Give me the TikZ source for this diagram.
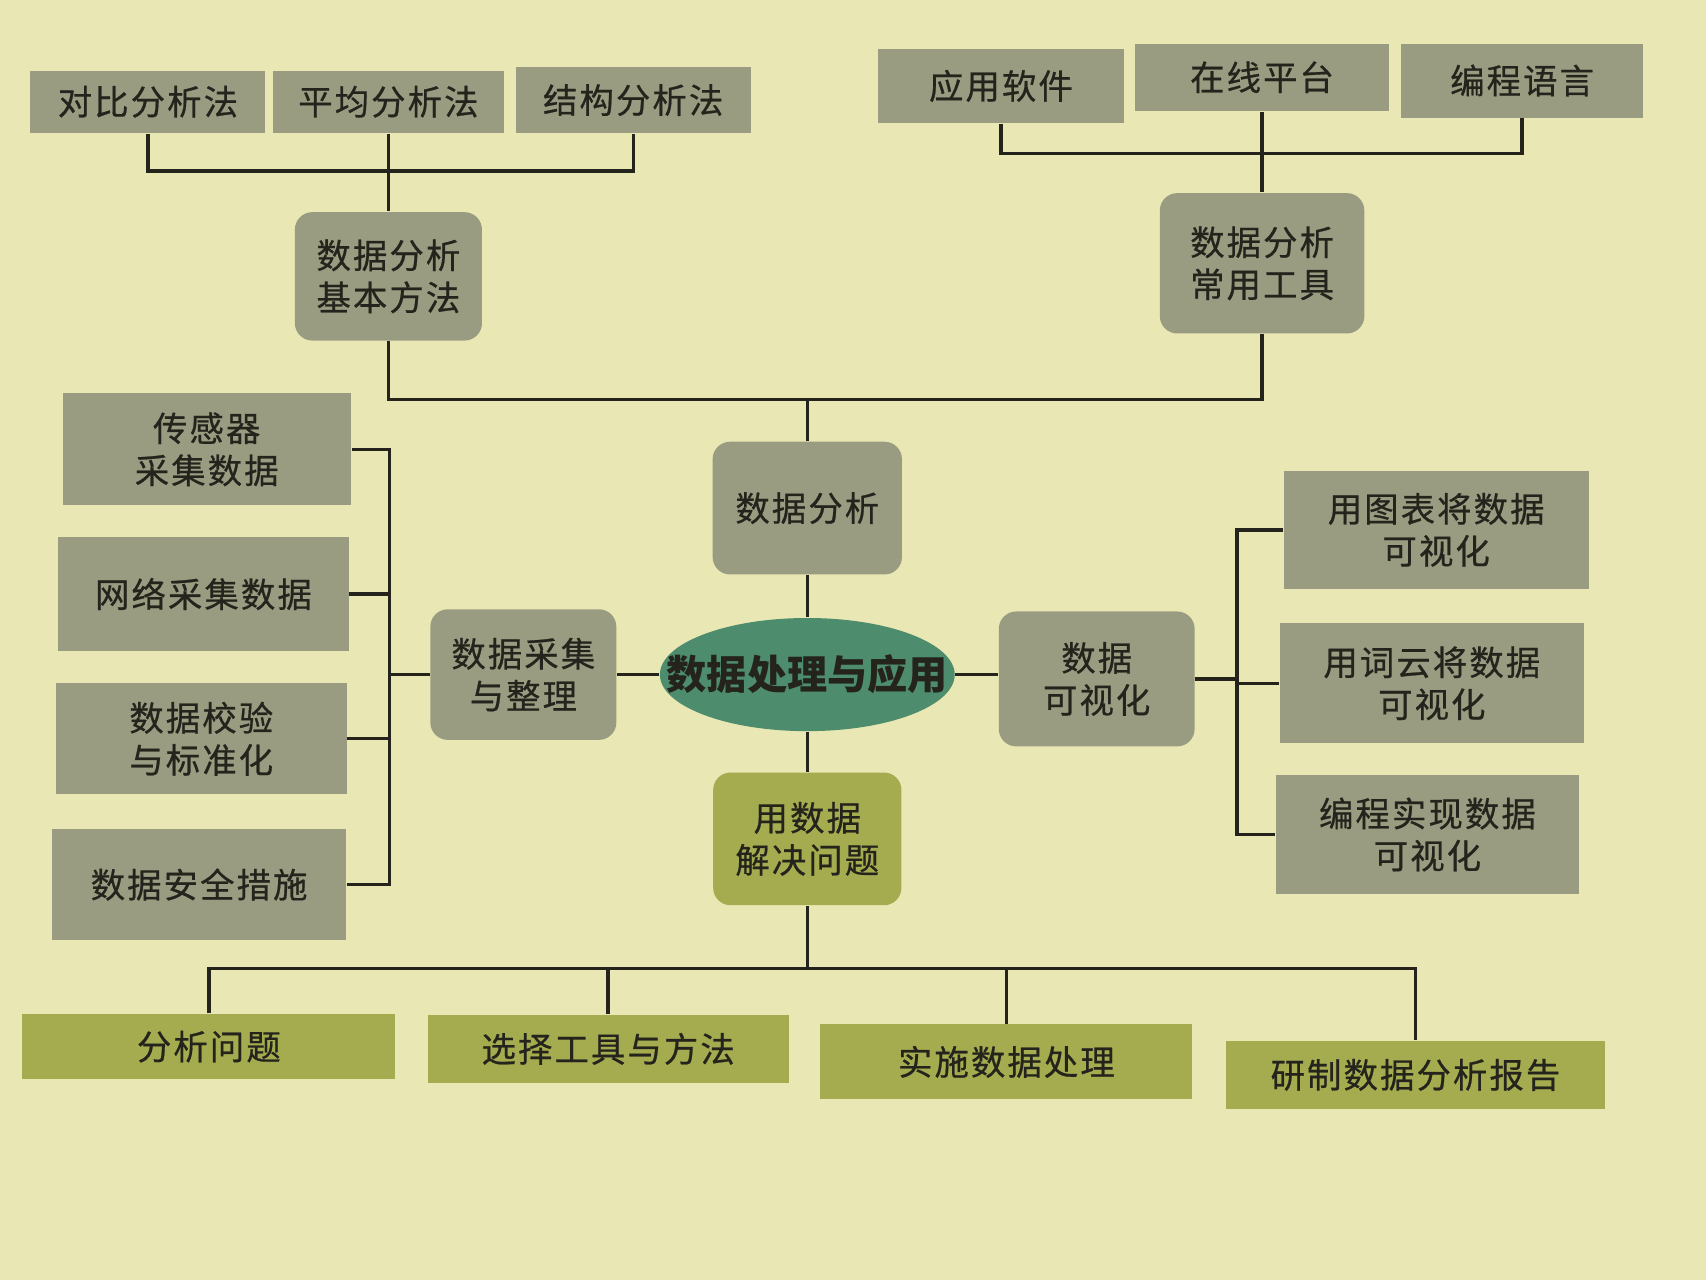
\documentclass[tikz,border=0pt]{standalone}
\usepackage{fontspec}
\setmainfont{Noto Sans CJK SC}
\usetikzlibrary{shapes.geometric}

\definecolor{paper}{HTML}{E9E7B3}
\definecolor{boxgray}{HTML}{9A9C82}
\definecolor{boxolive}{HTML}{A5AC50}
\definecolor{hubgreen}{HTML}{4E8C6E}
\definecolor{ink}{HTML}{24241C}

\tikzset{
  sz/.style 2 args={minimum width=#1mm, minimum height=#2mm},
  base/.style={inner sep=0pt, align=center, text=ink,
    font=\fontsize{9}{11}\selectfont\addfontfeature{LetterSpace=6,FakeBold=0.6}},
  leaf/.style={base, rectangle, fill=boxgray},
  topic/.style={base, rectangle, rounded corners=1.6mm, fill=boxgray},
  stepleaf/.style={base, rectangle, fill=boxolive},
  link/.style={draw=ink, line width=0.9pt},
}

\begin{document}
\begin{tikzpicture}[x=0.1mm, y=-0.1mm]
  % page
  \fill[paper] (0,0) rectangle (1568,1176);
  \useasboundingbox (0,0) rectangle (1568,1176);

  % analysis methods
  \node[leaf, sz={21.6}{5.7}] (a1) at (136,93.5) {对比分析法};
  \node[leaf, sz={21.3}{5.7}] (a2) at (357,93.5) {平均分析法};
  \node[leaf, sz={21.6}{6.0}] (a3) at (582,92) {结构分析法};
  \node[topic, sz={17.2}{11.8}] (am) at (357,254) {数据分析\\基本方法};

  % analysis tools
  \node[leaf, sz={22.6}{6.8}] (b1) at (920,79) {应用软件};
  \node[leaf, sz={23.4}{6.2}] (b2) at (1160,71) {在线平台};
  \node[leaf, sz={22.2}{6.8}] (b3) at (1399,74) {编程语言};
  \node[topic, sz={18.8}{12.9}] (bm) at (1160,242) {数据分析\\常用工具};

  % centre
  \node[topic, sz={17.4}{12.2}] (ana) at (742,467) {数据分析};
  \node[ellipse, fill=hubgreen, inner sep=0pt, minimum width=27.1mm, minimum height=10.4mm] (hub) at (742,620) {};
  \node[inner sep=0pt, text=ink, font=\fontsize{10.5}{12}\selectfont\bfseries] (hubtext) at (hub) {数据处理与应用};

  % collection
  \node[topic, sz={17.1}{12.0}] (col) at (481,620) {数据采集\\与整理};
  \node[leaf, sz={26.5}{10.3}] (l1) at (190,413) {传感器\\采集数据};
  \node[leaf, sz={26.7}{10.4}] (l2) at (187,546) {网络采集数据};
  \node[leaf, sz={26.7}{10.2}] (l3) at (185,679) {数据校验\\与标准化};
  \node[leaf, sz={27.0}{10.2}] (l4) at (183,813) {数据安全措施};

  % visualisation
  \node[topic, sz={18.0}{12.4}] (vis) at (1008,624) {数据\\可视化};
  \node[leaf, sz={28.0}{10.8}] (r1) at (1320,487) {用图表将数据\\可视化};
  \node[leaf, sz={27.9}{11.0}] (r2) at (1316,628) {用词云将数据\\可视化};
  \node[leaf, sz={27.9}{11.0}] (r3) at (1312,767) {编程实现数据\\可视化};

  % problem solving
  \node[topic, fill=boxolive, sz={17.3}{12.2}] (use) at (742,771) {用数据\\解决问题};
  \node[stepleaf, sz={34.3}{6.0}] (s1) at (192,962) {分析问题};
  \node[stepleaf, sz={33.2}{6.2}] (s2) at (559,964) {选择工具与方法};
  \node[stepleaf, sz={34.2}{6.9}] (s3) at (925,976) {实施数据处理};
  \node[stepleaf, sz={34.8}{6.3}] (s4) at (1301,988) {研制数据分析报告};

  % junction points
  \coordinate (abus) at (357,157);
  \coordinate (bbus) at (1160,141);
  \coordinate (tbus) at (742,367);
  \coordinate (lbus) at (358,620);
  \coordinate (rbus) at (1137,624);
  \coordinate (sbus) at (742,890);

  % connectors
  \draw[link] (a1.south) |- (abus) -| (a3.south);
  \draw[link] (a2.south) -- (am.north);
  \draw[link] (b1.south) |- (bbus) -| (b3.south);
  \draw[link] (b2.south) -- (bm.north);
  \draw[link] (am.south) |- (tbus) -| (bm.south);
  \draw[link] (tbus) -- (ana.north);
  \draw[link] (ana.south) -- (hub.north);
  \draw[link] (hub.south) -- (use.north);

  \draw[link] (col.east) -- (hub.west);
  \draw[link] (l1.east) -| (lbus |- l4.east) -- (l4.east);
  \draw[link] (l2.east) -- (l2.east -| lbus);
  \draw[link] (l3.east) -- (l3.east -| lbus);
  \draw[link] (lbus) -- (col.west);

  \draw[link] (hub.east) -- (hub.east -| vis.west);
  \draw[link] (r1.west) -| (rbus |- r3.west) -- (r3.west);
  \draw[link] (r2.west) -- (r2.west -| rbus);
  \draw[link] (vis.east) -- (vis.east -| rbus);

  \draw[link] (use.south) -- (sbus);
  \draw[link] (s1.north) |- (sbus) -| (s4.north);
  \draw[link] (s2.north) -- (s2.north |- sbus);
  \draw[link] (s3.north) -- (s3.north |- sbus);
\end{tikzpicture}
\end{document}
